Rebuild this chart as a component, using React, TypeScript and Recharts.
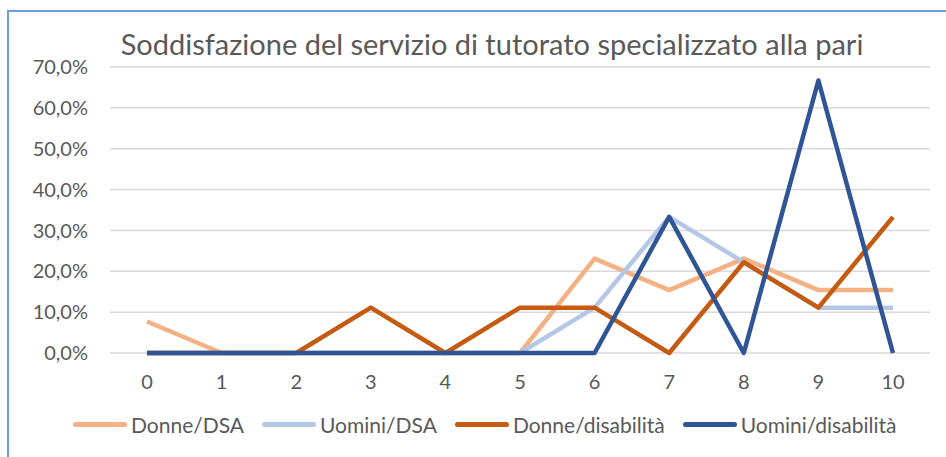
import React from 'react';
import { LineChart, Line, XAxis, YAxis, CartesianGrid } from 'recharts';

const CATEGORIES = ['0', '1', '2', '3', '4', '5', '6', '7', '8', '9', '10'];
const DONNE_DSA = [0.077, 0, 0, 0, 0, 0, 0.231, 0.154, 0.231, 0.154, 0.154];
const UOMINI_DSA = [0, 0, 0, 0, 0, 0, 0.111, 0.333, 0.222, 0.111, 0.111];
const DONNE_DISABILITA = [0, 0, 0, 0.111, 0, 0.111, 0.111, 0, 0.222, 0.111, 0.333];
const UOMINI_DISABILITA = [0, 0, 0, 0, 0, 0, 0, 0.333, 0, 0.667, 0];
const Y_TICKS = [0, 0.1, 0.2, 0.3, 0.4, 0.5, 0.6, 0.7];

const TITLE = 'Soddisfazione del servizio di tutorato specializzato alla pari';
const FONT = 'Lato, "Open Sans", sans-serif';
const TEXT_COLOR = '#595959';

const SERIES = [
  { key: 'donneDsa', name: 'Donne/DSA', color: '#F4B183' },
  { key: 'uominiDsa', name: 'Uomini/DSA', color: '#B4C7E7' },
  { key: 'donneDis', name: 'Donne/disabilità', color: '#C55A11' },
  { key: 'uominiDis', name: 'Uomini/disabilità', color: '#2F5597' },
];

const data = CATEGORIES.map((c, i) => ({
  cat: c,
  donneDsa: DONNE_DSA[i],
  uominiDsa: UOMINI_DSA[i],
  donneDis: DONNE_DISABILITA[i],
  uominiDis: UOMINI_DISABILITA[i],
}));

const formatPct = (v: number) => `${(v * 100).toFixed(1).replace('.', ',')}%`;

// legend drawn like the Excel one: long rounded stroke, then the label
const ExcelLegend = () => (
  <div
    style={{
      position: 'absolute',
      left: 73,
      top: 412,
      display: 'flex',
      alignItems: 'center',
      fontFamily: FONT,
      fontSize: 21,
      color: TEXT_COLOR,
      whiteSpace: 'nowrap',
    }}
  >
    {SERIES.map((s, i) => (
      <div key={s.key} style={{ display: 'flex', alignItems: 'center', marginRight: i < SERIES.length - 1 ? 18 : 0 }}>
        <span style={{ display: 'inline-block', width: 54, height: 5, borderRadius: 3, background: s.color, marginRight: 4 }} />
        <span>{s.name}</span>
      </div>
    ))}
  </div>
);

export default function App() {
  return (
    <div style={{ position: 'absolute', left: 0, top: 0, width: 946, height: 457, overflow: 'hidden', background: '#fff' }}>
      <div
        style={{
          position: 'absolute',
          left: 7,
          top: 10,
          width: 980,
          height: 480,
          border: '2px solid #6A9FDB',
          boxSizing: 'border-box',
        }}
      />
      <div
        style={{
          position: 'absolute',
          left: 0,
          top: 26,
          width: 984,
          textAlign: 'center',
          fontFamily: FONT,
          fontSize: 29,
          color: TEXT_COLOR,
          whiteSpace: 'nowrap',
        }}
      >
        {TITLE}
      </div>
      <div style={{ position: 'absolute', left: 0, top: 0 }}>
        <LineChart width={946} height={457} data={data} margin={{ top: 67, right: 16, bottom: 64, left: 0 }}>
          <CartesianGrid vertical={false} stroke="#D9D9D9" strokeWidth={1.5} />
          <XAxis
            dataKey="cat"
            axisLine={false}
            tickLine={false}
            tickSize={0}
            tickMargin={22}
            interval={0}
            height={40}
            padding={{ left: 37, right: 37 }}
            tick={{ fill: TEXT_COLOR, fontSize: 20, fontFamily: FONT }}
          />
          <YAxis
            width={110}
            domain={[0, 0.7]}
            ticks={Y_TICKS}
            axisLine={false}
            tickLine={false}
            tickSize={0}
            tickMargin={22}
            tickFormatter={formatPct}
            tick={{ fill: TEXT_COLOR, fontSize: 20, fontFamily: FONT }}
          />
          {SERIES.map((s) => (
            <Line
              key={s.key}
              type="linear"
              dataKey={s.key}
              name={s.name}
              stroke={s.color}
              strokeWidth={4.5}
              strokeLinejoin="round"
              dot={false}
              activeDot={false}
              isAnimationActive={false}
            />
          ))}
        </LineChart>
      </div>
      <ExcelLegend />
    </div>
  );
}
